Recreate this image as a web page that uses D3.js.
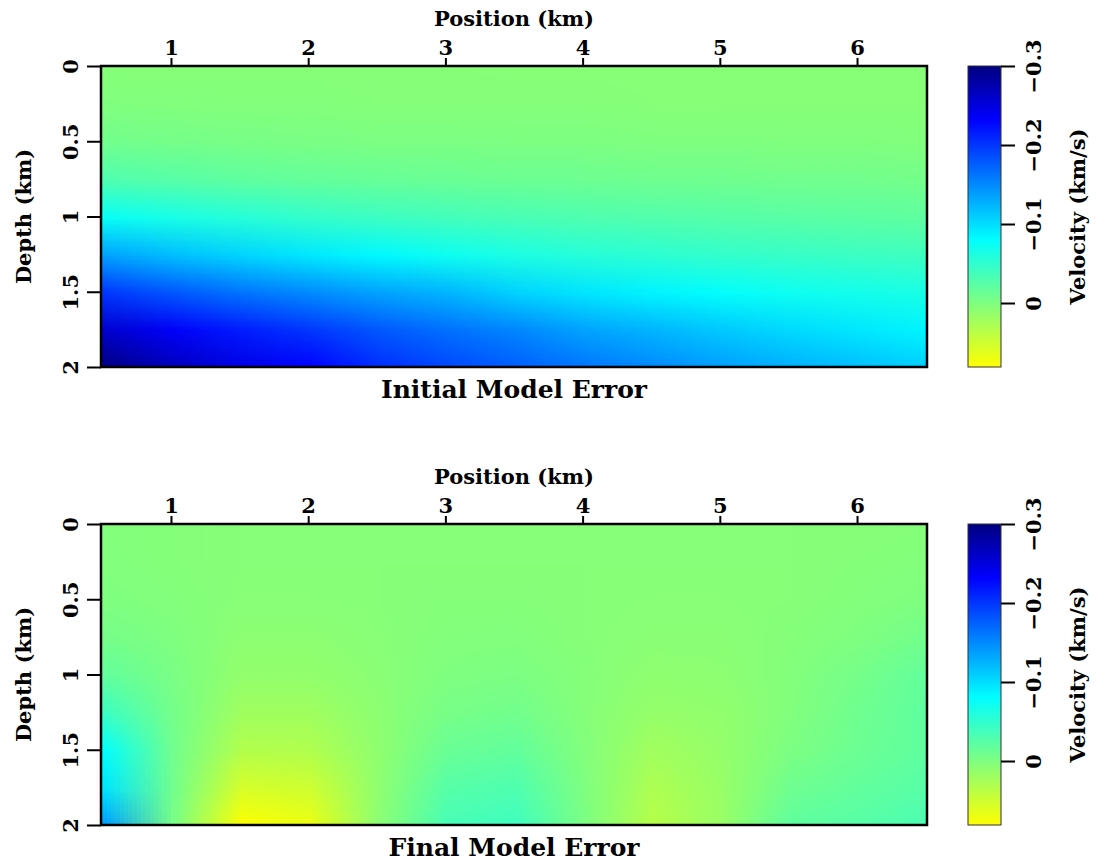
<!DOCTYPE html>
<html>
<head>
<meta charset="utf-8">
<script src="https://cdn.jsdelivr.net/npm/d3@7"></script>
<style>
  body { margin: 0; background: #fff; }
  text { font-family: "DejaVu Serif", serif; font-weight: bold; fill: #000; }
</style>
</head>
<body>
<script>
// grid the two error fields were read on (km)
const positions = [0.5, 1, 1.5, 2, 2.5, 3, 3.5, 4, 4.5, 5, 5.5, 6, 6.5];
const depths = [0, 0.25, 0.5, 0.75, 1, 1.25, 1.5, 1.75, 2];

// velocity error (km/s), one row per depth, one column per position
const initialError = [
  [0.005, 0.005, 0.005, 0.005, 0.005, 0.005, 0.006, 0.006, 0.006, 0.006, 0.006, 0.006, 0.006],
  [0.001, 0.002, 0.003, 0.003, 0.004, 0.004, 0.004, 0.004, 0.005, 0.005, 0.005, 0.005, 0.005],
  [-0.008, -0.006, -0.004, -0.003, -0.002, -0.002, -0.001, -0.001, 0, 0, 0.001, 0.001, 0.002],
  [-0.03, -0.025, -0.02, -0.017, -0.015, -0.013, -0.012, -0.011, -0.01, -0.009, -0.008, -0.008, -0.007],
  [-0.075, -0.065, -0.056, -0.048, -0.042, -0.038, -0.034, -0.03, -0.028, -0.026, -0.024, -0.022, -0.02],
  [-0.135, -0.118, -0.105, -0.093, -0.083, -0.072, -0.063, -0.056, -0.052, -0.048, -0.045, -0.042, -0.04],
  [-0.2, -0.18, -0.163, -0.149, -0.135, -0.124, -0.106, -0.095, -0.086, -0.078, -0.072, -0.068, -0.064],
  [-0.258, -0.235, -0.216, -0.2, -0.18, -0.165, -0.152, -0.135, -0.124, -0.112, -0.102, -0.094, -0.086],
  [-0.3, -0.268, -0.245, -0.232, -0.205, -0.19, -0.176, -0.162, -0.15, -0.138, -0.127, -0.118, -0.108],
];

const finalError = [
  [0.003, 0.004, 0.005, 0.005, 0.005, 0.005, 0.005, 0.005, 0.005, 0.005, 0.005, 0.005, 0.004],
  [0.002, 0.004, 0.005, 0.005, 0.005, 0.005, 0.005, 0.005, 0.005, 0.005, 0.005, 0.004, 0.003],
  [0, 0.003, 0.006, 0.006, 0.005, 0.004, 0.004, 0.005, 0.006, 0.006, 0.005, 0.003, 0],
  [-0.006, 0, 0.009, 0.009, 0.006, 0.003, 0.002, 0.005, 0.007, 0.007, 0.004, 0, -0.008],
  [-0.018, -0.003, 0.013, 0.013, 0.007, 0, -0.002, 0.004, 0.01, 0.009, 0.003, -0.006, -0.018],
  [-0.042, -0.006, 0.021, 0.021, 0.009, -0.005, -0.008, 0.004, 0.015, 0.012, 0.002, -0.01, -0.02],
  [-0.078, -0.008, 0.033, 0.032, 0.01, -0.014, -0.018, 0.003, 0.022, 0.014, -0.002, -0.012, -0.02],
  [-0.095, -0.008, 0.055, 0.05, 0.01, -0.026, -0.03, 0, 0.03, 0.016, -0.01, -0.018, -0.025],
  [-0.14, -0.004, 0.082, 0.07, 0.008, -0.035, -0.04, -0.002, 0.036, 0.016, -0.02, -0.025, -0.033],
];

// colour table: velocity value -> colour
const colorValues = [-0.3, -0.232, -0.08, 0.081];
const colorList = ['#000080', '#0000ff', '#00ffff', '#ffff00'];

const positionTicks = [1, 2, 3, 4, 5, 6];
const depthTicks = [0, 0.5, 1, 1.5, 2];
const velocityTicks = [-0.3, -0.2, -0.1, 0];

const titles = ['Initial Model Error', 'Final Model Error'];

/*
* Layout
*/
const width = 1097;
const height = 863;
const plotLeft = 101;
const plotRight = 927;
const plotHeight = 301;
const panelTops = [66, 524];
const barLeft = 968;
const barWidth = 33;
const labelSize = '21px';

const svg = d3.select('body').append('svg')
  .attr('width', width)
  .attr('height', height);

const x = d3.scaleLinear().domain([0.49, 6.51]).range([plotLeft, plotRight]);

const color = d3.scaleLinear()
  .domain(colorValues)
  .range(colorList)
  .clamp(true);

// paint the value grid into a tiny canvas, one pixel per sample
const gridImage = function (values) {
  const canvas = document.createElement('canvas');
  canvas.width = positions.length;
  canvas.height = depths.length;
  const ctx = canvas.getContext('2d');
  values.forEach((row, j) => {
    row.forEach((v, i) => {
      ctx.fillStyle = color(v);
      ctx.fillRect(i, j, 1, 1);
    });
  });
  return canvas.toDataURL();
};

const defs = svg.append('defs');

const grad = defs.append('linearGradient')
  .attr('id', 'cbar')
  .attr('x1', 0).attr('y1', 0)
  .attr('x2', 0).attr('y2', 1);

const cbDomain = [-0.3, 0.081];
grad.selectAll('stop')
  .data(colorValues)
  .join('stop')
  .attr('offset', (d) => (d - cbDomain[0]) / (cbDomain[1] - cbDomain[0]))
  .attr('stop-color', (d) => color(d));

const drawPanel = function (k, values) {
  const top = panelTops[k];
  const y = d3.scaleLinear().domain([0, 2]).range([top, top + plotHeight]);
  const g = svg.append('g');

  defs.append('clipPath')
    .attr('id', `clip${k}`)
    .append('rect')
    .attr('x', plotLeft)
    .attr('y', top)
    .attr('width', plotRight - plotLeft)
    .attr('height', plotHeight);

  // each sample pixel sits on its grid point, the browser smooths between them
  const dx = positions[1] - positions[0];
  const dz = depths[1] - depths[0];
  const x0 = x(positions[0] - dx / 2);
  const x1 = x(positions[positions.length - 1] + dx / 2);
  const y0 = y(depths[0] - dz / 2);
  const y1 = y(depths[depths.length - 1] + dz / 2);

  g.append('image')
    .attr('href', gridImage(values))
    .attr('x', x0)
    .attr('y', y0)
    .attr('width', x1 - x0)
    .attr('height', y1 - y0)
    .attr('preserveAspectRatio', 'none')
    .attr('clip-path', `url(#clip${k})`);

  g.append('rect')
    .attr('x', plotLeft)
    .attr('y', top)
    .attr('width', plotRight - plotLeft)
    .attr('height', plotHeight)
    .attr('fill', 'none')
    .attr('stroke', '#000')
    .attr('stroke-width', 2.5);

  // top axis
  const xAxis = g.append('g')
    .attr('transform', `translate(0,${top})`)
    .call(d3.axisTop(x).tickValues(positionTicks).tickSize(8).tickPadding(3).tickFormat(d3.format('')));
  xAxis.select('.domain').remove();
  xAxis.selectAll('line').attr('stroke-width', 2);
  xAxis.selectAll('text').style('font-size', labelSize);

  svg.append('text')
    .attr('x', (plotLeft + plotRight) / 2)
    .attr('y', top - 40)
    .attr('text-anchor', 'middle')
    .style('font-size', labelSize)
    .text('Position (km)');

  // left axis, labels turned on their side
  const yAxis = g.append('g')
    .attr('transform', `translate(${plotLeft},0)`)
    .call(d3.axisLeft(y).tickValues(depthTicks).tickSize(14).tickFormat(d3.format('')));
  yAxis.select('.domain').remove();
  yAxis.selectAll('line').attr('stroke-width', 2);
  yAxis.selectAll('text')
    .attr('x', 0)
    .attr('y', -23)
    .attr('dy', null)
    .attr('text-anchor', 'middle')
    .attr('transform', 'rotate(-90)')
    .style('font-size', labelSize);

  svg.append('text')
    .attr('transform', `translate(31,${top + plotHeight / 2}) rotate(-90)`)
    .attr('text-anchor', 'middle')
    .style('font-size', labelSize)
    .text('Depth (km)');

  svg.append('text')
    .attr('x', (plotLeft + plotRight) / 2)
    .attr('y', top + plotHeight + 31)
    .attr('text-anchor', 'middle')
    .style('font-size', '25px')
    .text(titles[k]);

  // colour bar
  const cb = d3.scaleLinear().domain(cbDomain).range([top, top + plotHeight]);

  g.append('rect')
    .attr('x', barLeft)
    .attr('y', top)
    .attr('width', barWidth)
    .attr('height', plotHeight)
    .attr('fill', 'url(#cbar)')
    .attr('stroke', '#333')
    .attr('stroke-width', 1);

  const cAxis = g.append('g')
    .attr('transform', `translate(${barLeft + barWidth},0)`)
    .call(d3.axisRight(cb).tickValues(velocityTicks).tickSize(14).tickFormat(d3.format('')));
  cAxis.select('.domain').remove();
  cAxis.selectAll('line').attr('stroke-width', 2);
  cAxis.selectAll('text')
    .attr('x', 0)
    .attr('y', 40)
    .attr('dy', null)
    .attr('text-anchor', 'middle')
    .attr('transform', 'rotate(-90)')
    .style('font-size', labelSize);

  svg.append('text')
    .attr('transform', `translate(1085,${top + plotHeight / 2}) rotate(-90)`)
    .attr('text-anchor', 'middle')
    .style('font-size', labelSize)
    .text('Velocity (km/s)');
};

drawPanel(0, initialError);
drawPanel(1, finalError);
</script>
</body>
</html>
